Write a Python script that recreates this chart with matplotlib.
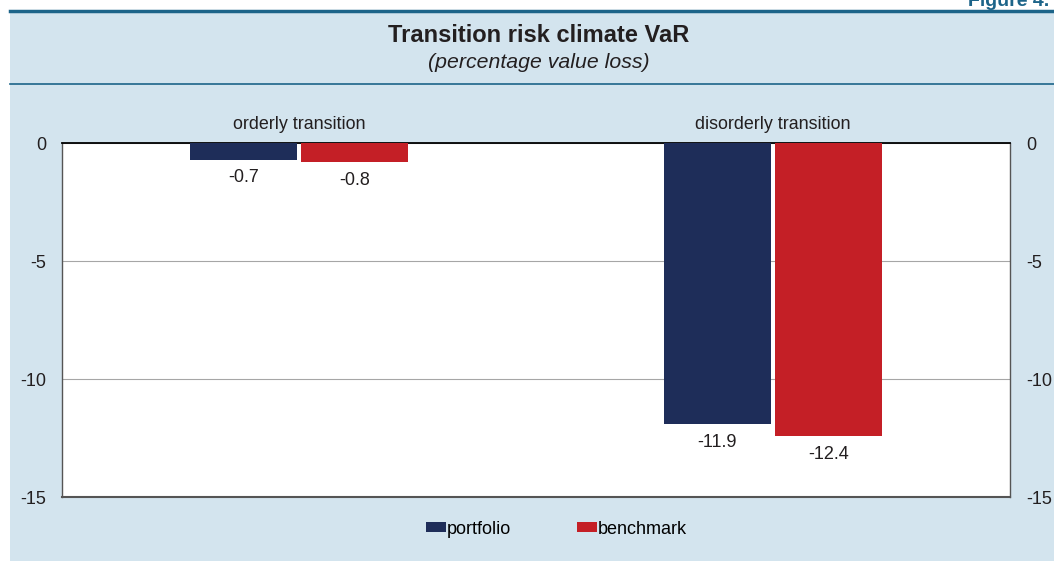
import matplotlib.pyplot as plt
from matplotlib.patches import Rectangle
from matplotlib.lines import Line2D

categories = ['orderly transition', 'disorderly transition']
portfolio = [-0.7, -11.9]
benchmark = [-0.8, -12.4]
yticks = [0, -5, -10, -15]

navy = '#1e2d59'
red = '#c41f26'
panel = '#d3e4ee'
teal = '#1c6489'

plt.rcParams['font.family'] = ['Liberation Sans', 'DejaVu Sans']

fig = plt.figure(figsize=(10.54, 5.61), dpi=100)
fig.patch.set_facecolor('white')

# light blue panel and header rules
fig.patches.append(Rectangle((10 / 1054, 0), 1, 1 - 10 / 561, transform=fig.transFigure,
                             facecolor=panel, edgecolor='none', zorder=-5))
fig.add_artist(Line2D([10 / 1054, 1], [1 - 11 / 561] * 2, color=teal, lw=2.5))
fig.add_artist(Line2D([10 / 1054, 1], [1 - 84 / 561] * 2, color=teal, lw=1.2))
fig.text(968 / 1054, 1 - 1 / 561, 'Figure 4.', ha='left', va='center', color=teal,
         fontsize=14, fontweight='bold')
fig.text(539 / 1054, 1 - 36 / 561, 'Transition risk climate VaR', ha='center', va='center',
         fontsize=17, fontweight='bold', color='#231f20')
fig.text(539 / 1054, 1 - 62 / 561, '(percentage value loss)', ha='center', va='center',
         fontsize=15.3, style='italic', color='#231f20')

ax = fig.add_axes([62 / 1054, 1 - 497 / 561, 948 / 1054, 354 / 561])
ax.set_facecolor('white')

x = range(len(categories))
w = 0.225
off = 0.1175
pb = ax.bar([i - off for i in x], portfolio, w, color=navy, label='portfolio', zorder=3)
bb = ax.bar([i + off for i in x], benchmark, w, color=red, label='benchmark', zorder=3)

for bars, vals in ((pb, portfolio), (bb, benchmark)):
    for b, v in zip(bars, vals):
        ax.text(b.get_x() + b.get_width() / 2, v - 0.42, f'{v:.1f}', ha='center', va='top',
                fontsize=13, color='#231f20')

for i, c in zip(x, categories):
    ax.text(i, 0.8, c, ha='center', va='center', fontsize=12.9, color='#231f20')

ax.set_xlim(-0.5, 1.5)
ax.set_ylim(-15, 0)
ax.set_yticks(yticks)
ax.set_yticklabels([str(t) for t in yticks])
ax.set_xticks([])
ax.tick_params(axis='y', length=0, labelsize=13, colors='#231f20', pad=11.5,
               labelright=True, right=False)
ax.grid(axis='y', color='#a6a6a6', lw=0.8, zorder=0)
for s in ax.spines.values():
    s.set_color('#555555')
    s.set_linewidth(1)
ax.spines['top'].set_color('black')
ax.spines['top'].set_linewidth(1.3)
ax.spines['bottom'].set_linewidth(1.5)

fig.legend(handles=[pb, bb], loc='center', bbox_to_anchor=(0.528, 1 - 529 / 561), ncol=2,
           frameon=False, fontsize=13, handlelength=1.1, handleheight=0.5,
           handletextpad=0.05, columnspacing=3.7)

fig.savefig('out.png', dpi=100, facecolor=fig.get_facecolor())
